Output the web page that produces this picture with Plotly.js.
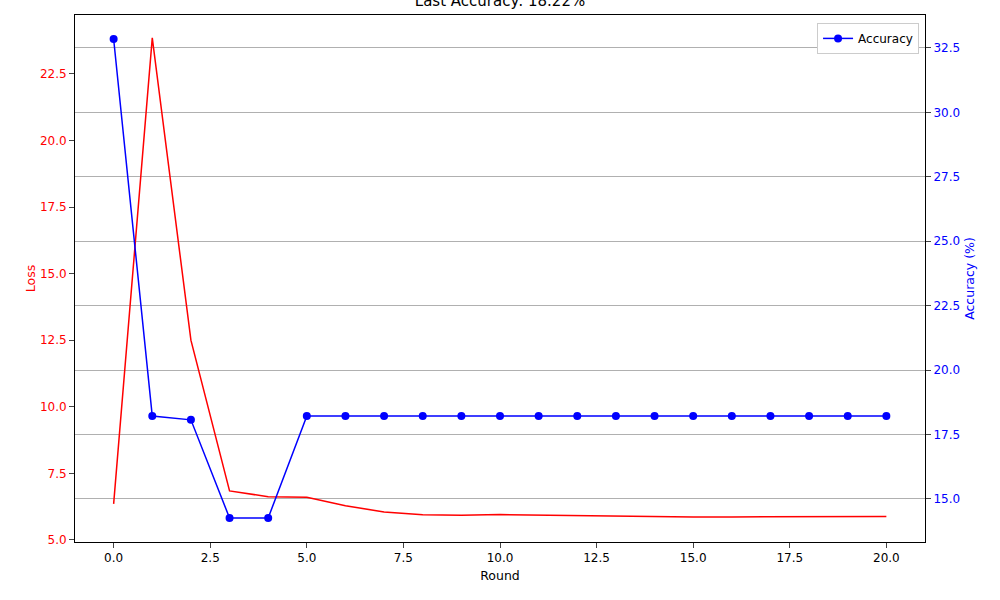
<!DOCTYPE html>
<html>
<head>
<script src="https://cdn.plot.ly/plotly-3.0.1.min.js"></script>
<style>body{margin:0}</style>
</head>
<body>
<div id="chart" style="width:1000px;height:600px"></div>
<script>
const rounds = [0, 1, 2, 3, 4, 5, 6, 7, 8, 9, 10, 11, 12, 13, 14, 15, 16, 17, 18, 19, 20];
const loss = [6.35, 23.85, 12.5, 6.84, 6.62, 6.6, 6.28, 6.05, 5.94, 5.92, 5.95, 5.93, 5.9, 5.88, 5.87, 5.86, 5.86, 5.86, 5.87, 5.87, 5.88];
const accuracy = [32.85, 18.22, 18.07, 14.26, 14.26, 18.22, 18.22, 18.22, 18.22, 18.22, 18.22, 18.22, 18.22, 18.22, 18.22, 18.22, 18.22, 18.22, 18.22, 18.22, 18.22];

const traces = [
  {x: rounds, y: loss, name: 'Loss', type: 'scatter', mode: 'lines',
   line: {color: 'red', width: 1.5}, showlegend: false},
  {x: rounds, y: accuracy, name: 'Accuracy', type: 'scatter', mode: 'lines+markers',
   line: {color: 'blue', width: 1.5}, marker: {color: 'blue', size: 8}, yaxis: 'y2'},
];

const layout = {
  font: {family: 'DejaVu Sans', size: 12, color: 'black'},
  margin: {l: 75, r: 75, t: 15, b: 58},
  paper_bgcolor: 'white', plot_bgcolor: 'white',
  title: {text: 'Last Accuracy: 18.22%', font: {size: 15}, x: 0.5, y: 0.998, yanchor: 'middle'},
  xaxis: {title: {text: 'Round', standoff: 6, font: {size: 12.5}}, range: [-1, 21], tickvals: [0, 2.5, 5, 7.5, 10, 12.5, 15, 17.5, 20],
    ticktext: ['0.0', '2.5', '5.0', '7.5', '10.0', '12.5', '15.0', '17.5', '20.0'],
    showgrid: false, zeroline: false, showline: true, mirror: true, linecolor: 'black', ticks: 'outside'},
  yaxis: {title: {text: 'Loss', font: {color: 'red', size: 12.5}}, range: [4.92, 24.71], dtick: 2.5, tickformat: '.1f',
    tickfont: {color: 'red'}, showgrid: false, zeroline: false, showline: true, linecolor: 'black', ticks: 'outside'},
  yaxis2: {title: {text: 'Accuracy (%)', font: {color: 'blue', size: 12.5}}, overlaying: 'y', side: 'right',
    range: [13.33, 33.78], dtick: 2.5, tickformat: '.1f', tickfont: {color: 'blue'},
    showgrid: true, gridcolor: '#b0b0b0', zeroline: false, showline: true, linecolor: 'black', ticks: 'outside'},
  legend: {x: 0.993, y: 0.985, xanchor: 'right', yanchor: 'top', bordercolor: '#cccccc', borderwidth: 1, bgcolor: 'white'},
};

Plotly.newPlot('chart', traces, layout, {displayModeBar: false});
</script>
</body>
</html>
